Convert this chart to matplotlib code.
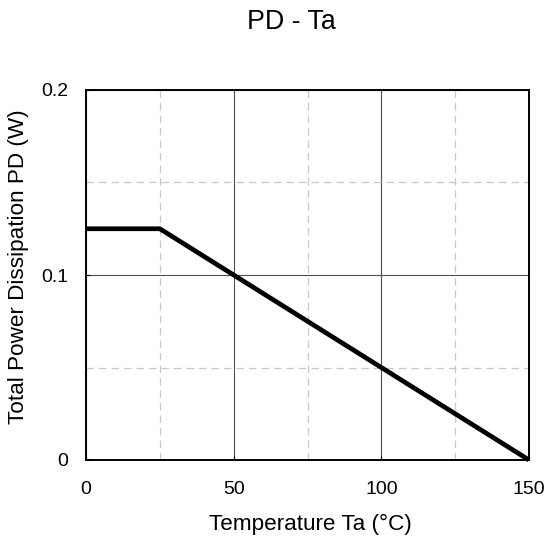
import matplotlib
matplotlib.use("Agg")
import matplotlib.pyplot as plt
from matplotlib.ticker import MultipleLocator

plt.rcParams['font.family'] = ['Liberation Sans', 'DejaVu Sans']

temp = [0, 25, 150]
power = [0.125, 0.125, 0.0]
xticks = [0, 50, 100, 150]
xticklabels = ["0", "50", "100", "150"]
yticks = [0, 0.1, 0.2]
yticklabels = ["0", "0.1", "0.2"]

fig = plt.figure(figsize=(5.52, 5.40), dpi=100)
ax = fig.add_axes([86/552, 1-460/540, (529-86)/552, (460-90)/540])
ax.set_xlim(0, 150)
ax.set_ylim(0, 0.2)
ax.set_xticks(xticks)
ax.set_xticklabels(xticklabels)
ax.set_yticks(yticks)
ax.set_yticklabels(yticklabels)
ax.xaxis.set_minor_locator(MultipleLocator(25))
ax.yaxis.set_minor_locator(MultipleLocator(0.05))
ax.grid(which='major', color='#505050', linewidth=0.8, linestyle='-')
ax.grid(which='minor', color='#c8c8c8', linewidth=0.9, linestyle=(0, (6, 4)))
ax.tick_params(which='major', direction='in', length=3, labelsize=14)
ax.tick_params(axis='x', which='major', pad=15)
ax.tick_params(axis='y', which='major', pad=13)
ax.tick_params(which='minor', length=0)
for s in ax.spines.values():
    s.set_linewidth(1.4)
ax.plot(temp, power, color='black', linewidth=3.4, solid_capstyle='butt', zorder=5, clip_on=False)
ax.set_xlabel("Temperature Ta (°C)", fontsize=16.2)
ax.set_ylabel("Total Power Dissipation PD (W)", fontsize=16.2)
ax.xaxis.set_label_coords(0.507, (460-514)/370)
ax.yaxis.set_label_coords((29-86)/443, (460-267)/370)
fig.text(291/552, 1-22/540, "PD - Ta", ha='center', va='center', fontsize=19.3)
fig.savefig("out.png", dpi=100)
